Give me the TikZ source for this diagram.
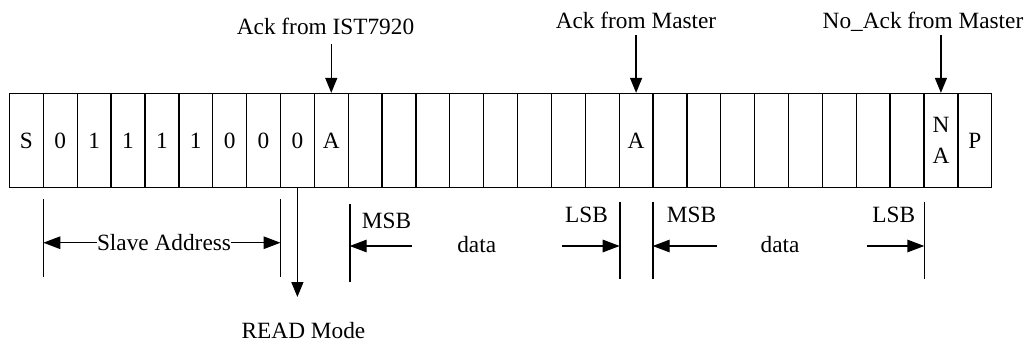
\documentclass[tikz,border=0pt]{standalone}
\usepackage{fontspec}
\setmainfont{Liberation Serif}
\usetikzlibrary{arrows.meta}
\begin{document}
\begin{tikzpicture}[x=1pt,y=-1pt,
  every node/.style={font=\fontsize{23.3}{31}\selectfont},
  cellbox/.style={draw, line width=1.3pt, minimum width=33.87pt,
    minimum height=94.2pt, inner sep=0pt, align=center},
  lbl/.style={inner sep=0pt},
  pointer/.style={line width=1.4pt, -{Triangle[length=15pt,width=12pt]}},
  span/.style={line width=1.4pt, -{Triangle[length=17pt,width=12.5pt]}},
  bar/.style={line width=1.6pt}]
\useasboundingbox (0,0) rectangle (1029,343);

% frame of 29 bit cells
\foreach \b [count=\i from 0] in {S,0,1,1,1,1,0,0,0,A,{},{},{},{},{},{},{},{},A,{},{},{},{},{},{},{},{},{N\\A},P}
  \node[cellbox] (c\i) at ({26.435+33.87*\i},140.6) {\b};

% acknowledge labels above the frame
\node[lbl, anchor=base] (ackist) at (325.5,34) {Ack from IST7920};
\node[lbl, anchor=base] (ackm) at (636,28.3) {Ack from Master};
\node[lbl, anchor=base] (nackm) at (923,28.3) {No\_Ack from Master};
\coordinate (p1) at (c9.north |- 0,44);
\coordinate (p2) at (c18.north |- 0,35);
\coordinate (p3) at (c27.north |- 0,35);
\draw[pointer] (p1) -- (c9.north);
\draw[pointer] (p2) -- (c18.north);
\draw[pointer] (p3) -- (c27.north);

% slave address span
\coordinate (sa1) at (43.3,199);
\coordinate (sa2) at (43.3,277);
\coordinate (sb1) at (280.5,199);
\coordinate (sb2) at (280.5,277);
\draw[bar] (sa1) -- (sa2);
\draw[bar] (sb1) -- (sb2);
\node[lbl, anchor=base] (slave) at (164,250.7) {Slave Address};
\draw[span] (slave.west) -- (slave.west -| sa1);
\draw[span] (slave.east) -- (slave.east -| sb1);

% read mode bit
\node[lbl, anchor=base] (readm) at (303.5,338) {READ Mode};
\coordinate (rd) at (c8.south |- 0,297);
\draw[pointer] (c8.south) -- (rd);

% first data byte
\coordinate (da1) at (349.7,204);
\coordinate (da2) at (349.7,281.7);
\coordinate (db1) at (619.7,201.7);
\coordinate (db2) at (619.7,279);
\draw[bar] (da1) -- (da2);
\draw[bar] (db1) -- (db2);
\node[lbl, anchor=base west] (msba) at (361.7,228.3) {MSB};
\node[lbl, anchor=base] (dataa) at (476.7,252.7) {data};
\node[lbl, anchor=base east] (lsba) at (608,222.3) {LSB};
\coordinate (dal) at (412,246);
\coordinate (dar) at (562,246);
\draw[span] (dal) -- (dal -| da1);
\draw[span] (dar) -- (dar -| db1);

% second data byte
\coordinate (ea1) at (652.7,201.7);
\coordinate (ea2) at (652.7,279.3);
\coordinate (eb1) at (924.3,201.7);
\coordinate (eb2) at (924.3,279.3);
\draw[bar] (ea1) -- (ea2);
\draw[bar] (eb1) -- (eb2);
\node[lbl, anchor=base west] (msbb) at (666.7,222.3) {MSB};
\node[lbl, anchor=base] (datab) at (780,252.7) {data};
\node[lbl, anchor=base east] (lsbb) at (915.3,222.3) {LSB};
\coordinate (eal) at (716.7,246);
\coordinate (ear) at (867,246);
\draw[span] (eal) -- (eal -| ea1);
\draw[span] (ear) -- (ear -| eb1);
\end{tikzpicture}
\end{document}
